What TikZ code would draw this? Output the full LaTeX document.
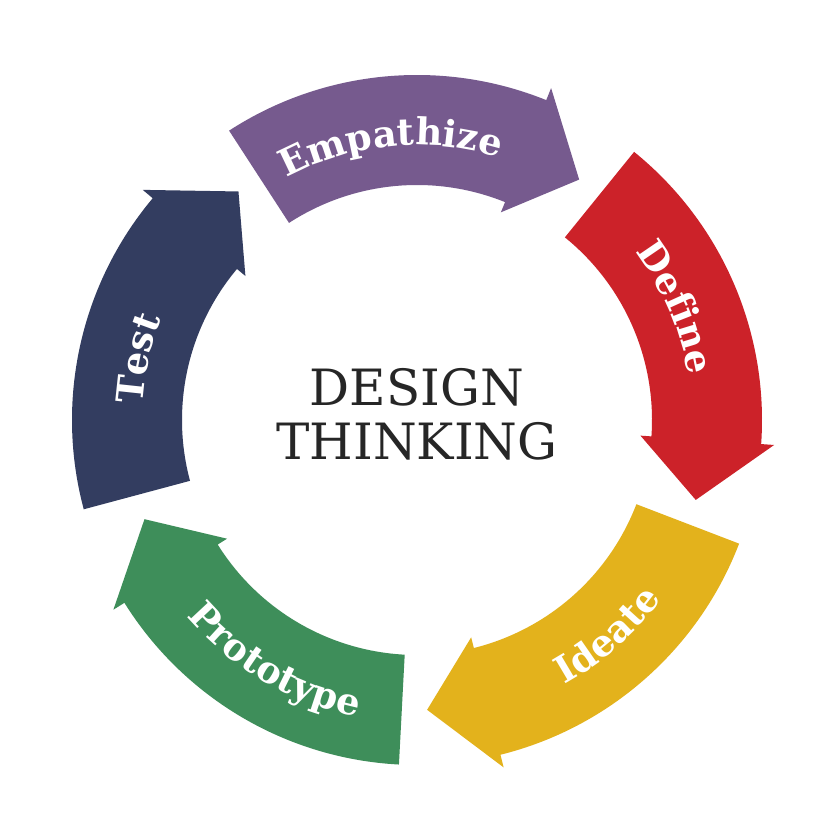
\documentclass[tikz,border=0pt]{standalone}
\usepackage{fontspec}
\setmainfont{DejaVu Serif}
\newfontfamily\lblfont{DejaVu Serif}
\usetikzlibrary{decorations.text}
\definecolor{cpurple}{HTML}{765A8E}
\definecolor{cred}{HTML}{CC2229}
\definecolor{cyellow}{HTML}{E3B21C}
\definecolor{cgreen}{HTML}{3E8E5A}
\definecolor{cnavy}{HTML}{333D60}
\tikzset{x=1pt,y=1pt}
\newcommand{\segarrow}[2]{%
  \fill[#2] (#1:345) arc[start angle=#1, end angle=#1-55, radius=345]
    -- (#1-55:358) -- (#1-67:290) -- (#1-55:224) -- (#1-55:235)
    arc[start angle=#1-55, end angle=#1, radius=235] -- cycle;}
\newcommand{\toplbl}[2]{%
  \path[decorate,decoration={text along path, text align=center,
    text={|\lblfont\bfseries\fontsize{37}{37}\selectfont\color{white}|#2}}]
    (#1-2:275) arc[start angle=#1-2, end angle=#1-53, radius=275];}
\newcommand{\botlbl}[2]{%
  \path[decorate,decoration={text along path, text align=center,
    text={|\lblfont\bfseries\fontsize{37}{37}\selectfont\color{white}|#2}}]
    (#1-53:303) arc[start angle=#1-53, end angle=#1-2, radius=303];}
\begin{document}
\begin{tikzpicture}
\useasboundingbox (-417,-414) rectangle (417,420);
\fill[white] (-417,-414) rectangle (417,420);
\segarrow{123}{cpurple}
\segarrow{51}{cred}
\segarrow{-21}{cyellow}
\segarrow{-93}{cgreen}
\segarrow{195}{cnavy}
\toplbl{123}{Empathize}
\toplbl{51}{Define}
\toplbl{195}{Test}
\botlbl{-21}{Ideate}
\botlbl{-93}{Prototype}
\node[align=center, text=black!85, font=\fontsize{50}{54}\selectfont] (title) at (0,6) {DESIGN\\THINKING};
\end{tikzpicture}
\end{document}
